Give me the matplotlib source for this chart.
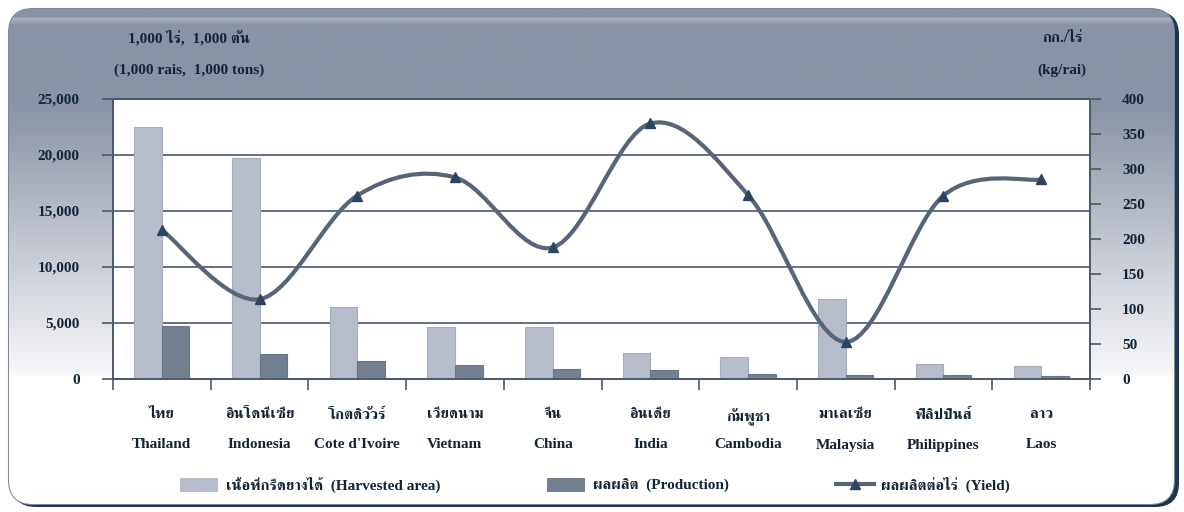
import numpy as np
import matplotlib
matplotlib.use('Agg')
import matplotlib.pyplot as plt
from matplotlib import font_manager, ft2font
from matplotlib.patches import FancyBboxPatch, Patch
from matplotlib.lines import Line2D
from matplotlib.path import Path
from matplotlib.patches import PathPatch

#==============================================================
#   Data
paises_th = ['ไทย', 'อินโดนีเซีย', 'โกตดิวัวร์', 'เวียดนาม', 'จีน',
             'อินเดีย', 'กัมพูชา', 'มาเลเซีย', 'ฟิลิปปินส์', 'ลาว']
paises_en = ['Thailand', 'Indonesia', "Cote d'Ivoire", 'Vietnam', 'China',
             'India', 'Cambodia', 'Malaysia', 'Philippines', 'Laos']
area = [22500, 19700, 6400, 4600, 4650, 2350, 1960, 7100, 1370, 1190]
producao = [4750, 2230, 1650, 1270, 870, 800, 470, 340, 330, 300]
rendimento = [213, 114, 262, 288, 188, 365, 263, 53, 262, 285]

yticks_esq = [0, 5000, 10000, 15000, 20000, 25000]
yticks_dir = list(range(0, 401, 50))

#==============================================================
#   Font with Thai glyphs (if any)
thai_font = None
candidatos = []
for f in font_manager.fontManager.ttflist:
    try:
        cmap = ft2font.FT2Font(f.fname).get_charmap()
    except Exception:
        continue
    if 0x0E01 in cmap and 0x0E44 in cmap:
        candidatos.append(f)
if candidatos:
    candidatos.sort(key=lambda f: (0 if 'Serif' in f.name else 1,
                                   0 if f.weight in ('bold', 700) else 1))
    thai_font = candidatos[0].name

familias = ['Liberation Serif']
if thai_font:
    familias.append(thai_font)
familias.append('DejaVu Sans')
plt.rcParams['font.family'] = familias
plt.rcParams['font.weight'] = 'bold'

cor_texto = '#112438'
cor_eixo = '#4a586b'
cor_area = '#b6bcc9'
cor_prod = '#738092'
cor_linha = '#56657a'
cor_marca = '#2b4560'

#==============================================================
#   Figure and background frame
W, H = 1184, 512
fig = plt.figure(figsize=(W / 100, H / 100), dpi=100)
bg = fig.add_axes([0, 0, 1, 1])
bg.set_xlim(0, W)
bg.set_ylim(H, 0)
bg.axis('off')

sombra = FancyBboxPatch((12, 11), 1167, 496, boxstyle='round,pad=0,rounding_size=24',
                        facecolor='#1e3550', edgecolor='none', zorder=0)
bg.add_patch(sombra)
moldura = FancyBboxPatch((9, 9), 1165, 495, boxstyle='round,pad=0,rounding_size=24',
                         facecolor='white', edgecolor='#7d8798', linewidth=1.5, zorder=1)
bg.add_patch(moldura)

# vertical gradient: gray-blue band on top, fading to white on the sides
topo = np.array([0x89, 0x93, 0xa5]) / 255.0
branco = np.array([0xf8, 0xf8, 0xfa]) / 255.0
img = np.ones((H, 1, 3))
for y in range(H):
    if y < 99:
        c = topo
        if 8 < y < 16:
            c = topo + (1 - topo) * 0.35 * (16 - y) / 8.0
    elif y < 379:
        t = (y - 99) / 280.0
        c = topo * (1 - t) + branco * t
    else:
        c = np.array([1.0, 1.0, 1.0])
    img[y, 0] = np.clip(c, 0, 1)
im = bg.imshow(img, extent=[9, 1174, 504, 9], aspect='auto', zorder=2, interpolation='bilinear')
im.set_clip_path(moldura)

#==============================================================
#   Main axes
ax = fig.add_axes([113 / W, 1 - 379 / H, (1090 - 113) / W, (379 - 99) / H])
ax.set_facecolor('white')
x = np.arange(len(area))
larg = 0.283
ax.bar(x - larg / 2, area, larg, color=cor_area, edgecolor='#a6adbb', linewidth=0.8, zorder=2)
ax.bar(x + larg / 2, producao, larg, color=cor_prod, edgecolor='#6a7688', linewidth=0.8, zorder=2)

ax.set_xlim(-0.5, len(area) - 0.5)
ax.set_ylim(0, 25000)
ax.set_yticks(yticks_esq)
ax.set_yticklabels(['{:,}'.format(v) for v in yticks_esq])
ax.yaxis.grid(True, color=cor_eixo, linewidth=1.2)
ax.set_axisbelow(True)
ax.tick_params(axis='y', direction='out', length=8, width=1.2, color=cor_eixo,
               pad=16, labelsize=11, labelcolor=cor_texto)

# Thai names as tick labels, English names as a second row of text
ax.set_xticks(x)
ax.set_xticklabels(paises_th)
ax.set_xticks(np.arange(-0.5, len(area), 1.0), minor=True)
ax.tick_params(axis='x', which='major', length=0, pad=21, labelsize=11, labelcolor=cor_texto)
ax.tick_params(axis='x', which='minor', direction='out', length=8, width=1.2, color=cor_eixo)
for i, nome in enumerate(paises_en):
    ax.text(i, -66 / 280, nome, transform=ax.get_xaxis_transform(), ha='center',
            va='center', fontsize=11, color=cor_texto)
for s in ax.spines.values():
    s.set_color(cor_eixo)
    s.set_linewidth(1.2)

#==============================================================
#   Yield (secondary axis), smoothed line through the points
ax2 = ax.twinx()
ax2.set_ylim(0, 400)
ax2.set_yticks(yticks_dir)
ax2.tick_params(axis='y', direction='out', length=8, width=1.2, color=cor_eixo,
                pad=15, labelsize=11, labelcolor=cor_texto)
for s in ax2.spines.values():
    s.set_color(cor_eixo)
    s.set_linewidth(1.2)

pts = np.column_stack([x, rendimento]).astype(float)
ext = np.vstack([pts[0], pts, pts[-1]])
verts = [tuple(pts[0])]
codes = [Path.MOVETO]
for i in range(len(pts) - 1):
    p0, p1, p2, p3 = ext[i], ext[i + 1], ext[i + 2], ext[i + 3]
    c1 = p1 + (p2 - p0) / 6.0
    c2 = p2 - (p3 - p1) / 6.0
    verts += [tuple(c1), tuple(c2), tuple(p2)]
    codes += [Path.CURVE4] * 3
ax2.add_patch(PathPatch(Path(verts, codes), facecolor='none', edgecolor=cor_linha,
                        linewidth=3, capstyle='round', zorder=3))
ax2.plot(x, rendimento, '^', color=cor_marca, markersize=7.5, zorder=4)

#==============================================================
#   Titles of the axes and legend
fig.text(189 / W, 1 - 38 / H, '1,000 ไร่,  1,000 ตัน', ha='center', va='center',
         fontsize=11, color=cor_texto)
fig.text(189 / W, 1 - 70 / H, '(1,000 rais,  1,000 tons)', ha='center', va='center',
         fontsize=11, color=cor_texto)
fig.text(1062 / W, 1 - 38 / H, 'กก./ไร่', ha='center', va='center',
         fontsize=11, color=cor_texto)
fig.text(1062 / W, 1 - 70 / H, '(kg/rai)', ha='center', va='center',
         fontsize=11, color=cor_texto)

handles = [Patch(facecolor=cor_area, edgecolor='none'),
           Patch(facecolor=cor_prod, edgecolor='none'),
           Line2D([], [], color=cor_linha, linewidth=3, marker='^',
                  markersize=7.5, markerfacecolor=cor_marca, markeredgecolor=cor_marca)]
rotulos = ['เนื้อที่กรีดยางได้  (Harvested area)', 'ผลผลิต  (Production)',
           'ผลผลิตต่อไร่  (Yield)']
fig.legend(handles, rotulos, loc='center', bbox_to_anchor=(595 / W, 1 - 485 / H),
           ncol=3, frameon=False, fontsize=11, handlelength=2.5, handleheight=1.0,
           handletextpad=0.5, columnspacing=7.0, labelcolor=cor_texto)

plt.savefig('out.png', dpi=100)
